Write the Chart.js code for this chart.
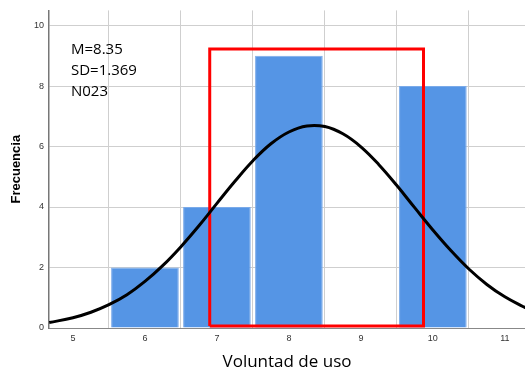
<!DOCTYPE html>
<html>
<head>
<meta charset="utf-8">
<script src="https://cdn.jsdelivr.net/npm/chart.js@4/dist/chart.umd.min.js"></script>
<style>
  html, body { margin: 0; padding: 0; background: #ffffff; }
  #wrap { width: 525px; height: 372px; position: relative; }
</style>
</head>
<body>
<div id="wrap"><canvas id="c" width="525" height="372"></canvas></div>
<script>
// ---- data ----
const binCenters = [6, 7, 8, 10];
const frequencies = [2, 4, 9, 8];

// normal curve (x, frequency)
const curveX = [4.67, 5.0, 5.25, 5.5, 5.75, 6.0, 6.25, 6.5, 6.75, 7.0, 7.25, 7.5, 7.75, 8.0, 8.25, 8.5, 8.75, 9.0, 9.25, 9.5, 9.75, 10.0, 10.25, 10.5, 10.75, 11.0, 11.25, 11.3];
const curveY = [0.18, 0.34, 0.52, 0.77, 1.10, 1.54, 2.07, 2.69, 3.38, 4.12, 4.85, 5.53, 6.09, 6.48, 6.68, 6.66, 6.42, 5.99, 5.40, 4.71, 3.97, 3.24, 2.56, 1.95, 1.44, 1.03, 0.71, 0.66];

// red highlight rectangle (data units)
const boxX = [6.9, 6.9, 9.87, 9.87, 6.9];
const boxY = [0.07, 9.22, 9.22, 0.07, 0.07];

const xTicks = [5, 6, 7, 8, 9, 10, 11];
const yTicks = [0, 2, 4, 6, 8, 10];
const statsText = ['M=8.35', 'SD=1.369', 'N023'];
const xTitle = 'Voluntad de uso';
const yTitle = 'Frecuencia';

const barData = binCenters.map((x, i) => ({ x: x, y: frequencies[i] }));
const curveData = curveX.map((x, i) => ({ x: x, y: curveY[i] }));
const boxData = boxX.map((x, i) => ({ x: x, y: boxY[i] }));

const statsPlugin = {
  id: 'stats',
  afterDatasetsDraw(chart) {
    const { ctx, chartArea } = chart;
    ctx.save();
    ctx.fillStyle = '#000000';
    ctx.font = '15px "Open Sans", "Noto Sans", sans-serif';
    ctx.textBaseline = 'alphabetic';
    ctx.textAlign = 'left';
    statsText.forEach((t, i) => {
      ctx.fillText(t, chartArea.left + 22, chartArea.top + 44 + i * 21);
    });
    ctx.restore();
  }
};

new Chart(document.getElementById('c'), {
  type: 'bar',
  data: {
    datasets: [
      {
        type: 'line',
        data: curveData,
        borderColor: '#000000',
        borderWidth: 3,
        pointRadius: 0,
        tension: 0.4,
        fill: false,
        order: 1
      },
      {
        type: 'line',
        data: boxData,
        borderColor: '#ff0000',
        borderWidth: 3,
        pointRadius: 0,
        tension: 0,
        fill: false,
        order: 2
      },
      {
        type: 'bar',
        data: barData,
        backgroundColor: '#5595e5',
        borderColor: '#7aaae9',
        borderWidth: 1,
        barPercentage: 0.94,
        categoryPercentage: 1.0,
        order: 3
      }
    ]
  },
  options: {
    responsive: false,
    animation: false,
    devicePixelRatio: 1,
    layout: { padding: { top: 10, right: 0, left: 0, bottom: 0 } },
    plugins: { legend: { display: false }, tooltip: { enabled: false } },
    scales: {
      x: {
        type: 'linear',
        min: 4.667,
        max: 11.28,
        offset: false,
        grid: { color: '#cfcfcf', lineWidth: 1, drawTicks: false },
        border: { color: '#888888', width: 1 },
        afterBuildTicks(scale) { scale.ticks = xTicks.map(v => ({ value: v })); },
        ticks: {
          font: { family: 'Liberation Sans, Arial, sans-serif', size: 9 },
          color: '#333333',
          padding: 5,
          maxRotation: 0,
          autoSkip: false
        },
        title: {
          display: true,
          text: xTitle,
          font: { family: '"Open Sans", "Noto Sans", sans-serif', size: 17 },
          color: '#000000',
          padding: { top: 8, bottom: 0 }
        },
        afterFit(scale) { scale.height = 44; }
      },
      y: {
        type: 'linear',
        min: 0,
        max: 10.5,
        grid: { color: '#cfcfcf', lineWidth: 1, drawTicks: false },
        border: { color: '#777777', width: 1.5 },
        afterBuildTicks(scale) { scale.ticks = yTicks.map(v => ({ value: v })); },
        ticks: {
          font: { family: 'Liberation Sans, Arial, sans-serif', size: 9 },
          color: '#333333',
          padding: 5
        },
        title: {
          display: true,
          text: yTitle,
          font: { family: 'Liberation Sans, Arial, sans-serif', size: 13, weight: 'bold' },
          color: '#000000',
          padding: { top: 9, bottom: 0 }
        },
        afterFit(scale) { scale.width = 49; }
      }
    }
  },
  plugins: [statsPlugin]
});
</script>
</body>
</html>
